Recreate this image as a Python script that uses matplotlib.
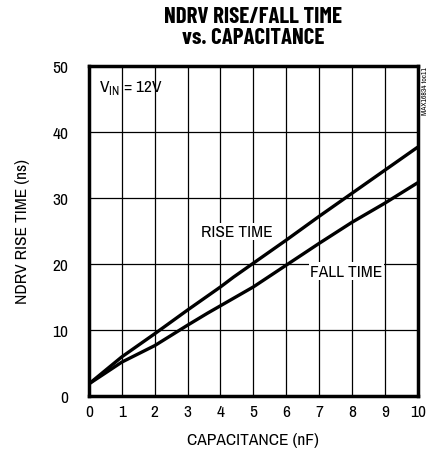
import matplotlib
matplotlib.use('Agg')
import matplotlib.pyplot as plt

# Condensed face, like the datasheet font
plt.rcParams['font.family'] = ['Archivo Narrow', 'DejaVu Sans']

# Data
cap_rise = [0, 1, 2, 3, 4, 4.4, 5, 6, 7, 8, 9, 10]
rise_time = [1.8, 5.9, 9.4, 13.0, 16.5, 18.0, 20.1, 23.6, 27.2, 30.7, 34.2, 37.7]
cap_fall = [0, 1, 2, 3, 3.6, 4.3, 5, 6, 7, 8, 9, 10]
fall_time = [1.8, 5.1, 7.6, 10.7, 12.5, 14.5, 16.5, 19.8, 23.1, 26.3, 29.2, 32.3]

fig = plt.figure(figsize=(4.29, 4.6), dpi=100)
ax = fig.add_axes([0.2075, 0.1376, 0.7662, 0.7167])

ax.plot(cap_rise, rise_time, color='black', lw=2.4, solid_capstyle='butt', zorder=3)
ax.plot(cap_fall, fall_time, color='black', lw=2.4, solid_capstyle='butt', zorder=3)

ax.set_xlim(0, 10)
ax.set_ylim(0, 50)
ax.set_xticks(range(0, 11))
ax.set_yticks(range(0, 51, 10))
ax.grid(True, color='black', lw=0.9)
ax.tick_params(length=0, labelsize=12.5)
ax.tick_params(axis='x', pad=6)
ax.tick_params(axis='y', pad=15)
for s in ax.spines.values():
    s.set_linewidth(2.5)

ax.set_xlabel('CAPACITANCE (nF)', fontsize=12.5, labelpad=9)
ax.set_ylabel('NDRV RISE TIME (ns)', fontsize=12.5, labelpad=16)
fig.suptitle('NDRV RISE/FALL TIME\nvs. CAPACITANCE', fontsize=16.5, fontweight='bold',
             family=['Barlow Condensed', 'DejaVu Sans'],
             x=0.59, y=0.985, linespacing=1.05)

ax.text(0.3, 46.8, 'V$_{\\mathregular{IN}}$ = 12V', fontsize=12.5, ha='left', va='center')
ax.text(4.49, 24.9, 'RISE TIME', fontsize=12.5, ha='center', va='center',
        bbox=dict(facecolor='white', edgecolor='none', pad=1), zorder=4)
ax.text(7.82, 18.9, 'FALL TIME', fontsize=12.5, ha='center', va='center',
        bbox=dict(facecolor='white', edgecolor='none', pad=1), zorder=4)

fig.text(0.998, 0.855, 'MAX16834 toc11', fontsize=5.5, rotation=90, ha='right', va='top')

fig.savefig('out.png', dpi=100)
